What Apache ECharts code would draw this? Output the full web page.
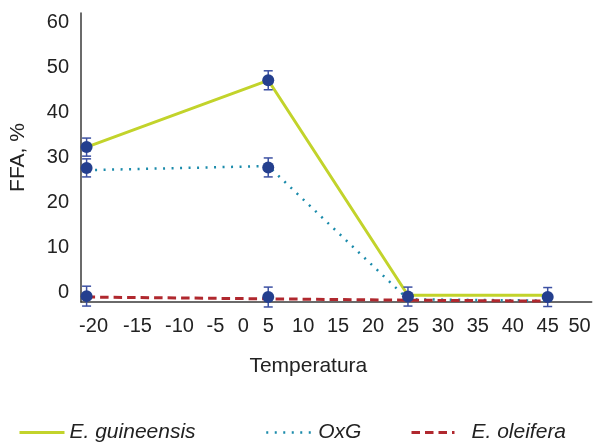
<!DOCTYPE html>
<html>
<head>
<meta charset="utf-8">
<script src="https://cdn.jsdelivr.net/npm/echarts@6/dist/echarts.min.js"></script>
<style>
  html, body { margin: 0; padding: 0; background: #ffffff; }
  #chart { width: 594px; height: 443px; }
</style>
</head>
<body>
<div id="chart"></div>
<script>
// ---- data ----
const temps = [-21, 5, 25, 45];
const guineensis = [32.3, 47.1, -0.5, -0.5];
const oxg = [27.2, 28.1, -1.4, -1.7];
const oleifera = [-0.9, -1.3, -1.6, -1.8];

// mean points with error bars (all drawn as dark blue markers)
const markerX = [-21, -21, -21, 5, 5, 5, 25, 45];
const markerY = [32.3, 27.7, -0.7, 47.1, 27.8, -0.9, -0.8, -0.9];
const markerErr = [2.0, 2.0, 2.2, 2.1, 2.1, 2.2, 2.1, 2.1];

const xTickLabels = [-20, -15, -10, -5, 0, 5, 10, 15, 20, 25, 30, 35, 40, 45, 50];
const yTickLabels = [0, 10, 20, 30, 40, 50, 60];
const seriesNames = ['E. guineensis', 'OxG', 'E. oleifera'];

// ---- styling ----
const FONT = 'Liberation Sans, Arial, Helvetica, sans-serif';
const TEXT = '#222222';
const labelNudge = { '-15': 9, '-10': 16, '-5': 17, '0': 10, '50': -3 };
const rich = {};
const nudgeKey = {};
Object.keys(labelNudge).forEach((k, i) => {
  const n = labelNudge[k];
  rich['n' + i] = {
    fontSize: 20, fontFamily: FONT, color: TEXT,
    padding: n > 0 ? [0, 0, 0, 2 * n] : [0, -2 * n, 0, 0]
  };
  nudgeKey[k] = 'n' + i;
});

const zip = (xs, ys) => xs.map((x, i) => [x, ys[i]]);

const legendText = { fontSize: 21, fontStyle: 'italic', color: TEXT, fontFamily: FONT };
const legendBase = { top: 422, itemHeight: 20, padding: 0, itemStyle: { opacity: 0 } };

const chart = echarts.init(document.getElementById('chart'), null, { renderer: 'canvas' });
chart.setOption({
  animation: false,
  backgroundColor: '#ffffff',
  textStyle: { fontFamily: FONT },
  grid: { left: 80, right: 1, top: 13, bottom: 141, containLabel: false },
  xAxis: {
    type: 'value',
    min: -21.8, max: 51.3, interval: 0.2,
    name: 'Temperatura',
    nameLocation: 'middle',
    nameGap: 54,
    nameTextStyle: { fontSize: 21, color: TEXT, fontFamily: FONT, padding: [0, 56, 0, 0] },
    axisLine: { onZero: false, lineStyle: { color: '#3a3a3a', width: 1.5 } },
    axisTick: { show: false },
    splitLine: { show: false },
    axisLabel: {
      margin: 14, fontSize: 20, color: TEXT, fontFamily: FONT,
      showMinLabel: false, showMaxLabel: false,
      rich: rich,
      formatter: function (v) {
        const r = Math.round(v * 10) / 10;
        if (Math.abs(r - Math.round(r)) > 1e-6 || !xTickLabels.includes(Math.round(r))) return '';
        const key = nudgeKey[String(Math.round(r))];
        return key ? '{' + key + '|' + Math.round(r) + '}' : String(Math.round(r));
      }
    }
  },
  yAxis: {
    type: 'value',
    min: -2, max: 62, interval: 2,
    name: 'FFA, %',
    nameLocation: 'middle',
    nameGap: 52,
    nameTextStyle: { fontSize: 21, color: TEXT, fontFamily: FONT },
    axisLine: { show: true, onZero: false, lineStyle: { color: '#3a3a3a', width: 1.5 } },
    axisTick: { show: false },
    splitLine: { show: false },
    axisLabel: {
      margin: 12, fontSize: 20, color: TEXT, fontFamily: FONT,
      showMinLabel: false, showMaxLabel: false,
      formatter: function (v) {
        const r = Math.round(v);
        return (Math.abs(v - r) < 1e-6 && yTickLabels.includes(r)) ? String(r) : '';
      }
    }
  },
  legend: [
    Object.assign({}, legendBase, {
      data: [seriesNames[0]], left: 18, itemWidth: 45, textStyle: legendText,
      lineStyle: { width: 3 }
    }),
    Object.assign({}, legendBase, {
      data: [seriesNames[1]], left: 265, itemWidth: 47, textStyle: legendText,
      lineStyle: { width: 2.5 }
    }),
    Object.assign({}, legendBase, {
      data: [seriesNames[2]], left: 410, itemWidth: 43,
      textStyle: Object.assign({}, legendText, { padding: [0, 0, 0, 12] }),
      lineStyle: { width: 3 }
    })
  ],
  series: [
    {
      name: seriesNames[0], type: 'line', symbol: 'none', z: 3,
      data: zip(temps, guineensis),
      lineStyle: { color: '#c2d32b', width: 3 },
      itemStyle: { color: '#c2d32b' }
    },
    {
      name: seriesNames[1], type: 'line', symbol: 'none', z: 3,
      data: zip(temps, oxg),
      lineStyle: { color: '#1b8bab', width: 2.5, type: [2, 6.5] },
      itemStyle: { color: '#1b8bab' }
    },
    {
      name: seriesNames[2], type: 'line', symbol: 'none', z: 3,
      data: zip(temps, oleifera),
      lineStyle: { color: '#b0282e', width: 3, type: [8.5, 5] },
      itemStyle: { color: '#b0282e' }
    },
    {
      name: 'err', type: 'custom', z: 4,
      data: markerX.map((x, i) => [x, markerY[i], markerErr[i]]),
      renderItem: function (params, api) {
        const x = api.value(0), y = api.value(1), e = api.value(2);
        const top = api.coord([x, y + e]);
        const bot = api.coord([x, y - e]);
        const hw = 4.5;
        const st = { stroke: '#3d51a3', lineWidth: 1.5 };
        return {
          type: 'group',
          children: [
            { type: 'line', shape: { x1: top[0], y1: top[1], x2: bot[0], y2: bot[1] }, style: st },
            { type: 'line', shape: { x1: top[0] - hw, y1: top[1], x2: top[0] + hw, y2: top[1] }, style: st },
            { type: 'line', shape: { x1: bot[0] - hw, y1: bot[1], x2: bot[0] + hw, y2: bot[1] }, style: st }
          ]
        };
      }
    },
    {
      name: 'means', type: 'scatter', z: 5,
      symbol: 'circle', symbolSize: 12,
      data: zip(markerX, markerY),
      itemStyle: { color: '#243f8e', opacity: 1 }
    }
  ]
});
</script>
</body>
</html>
